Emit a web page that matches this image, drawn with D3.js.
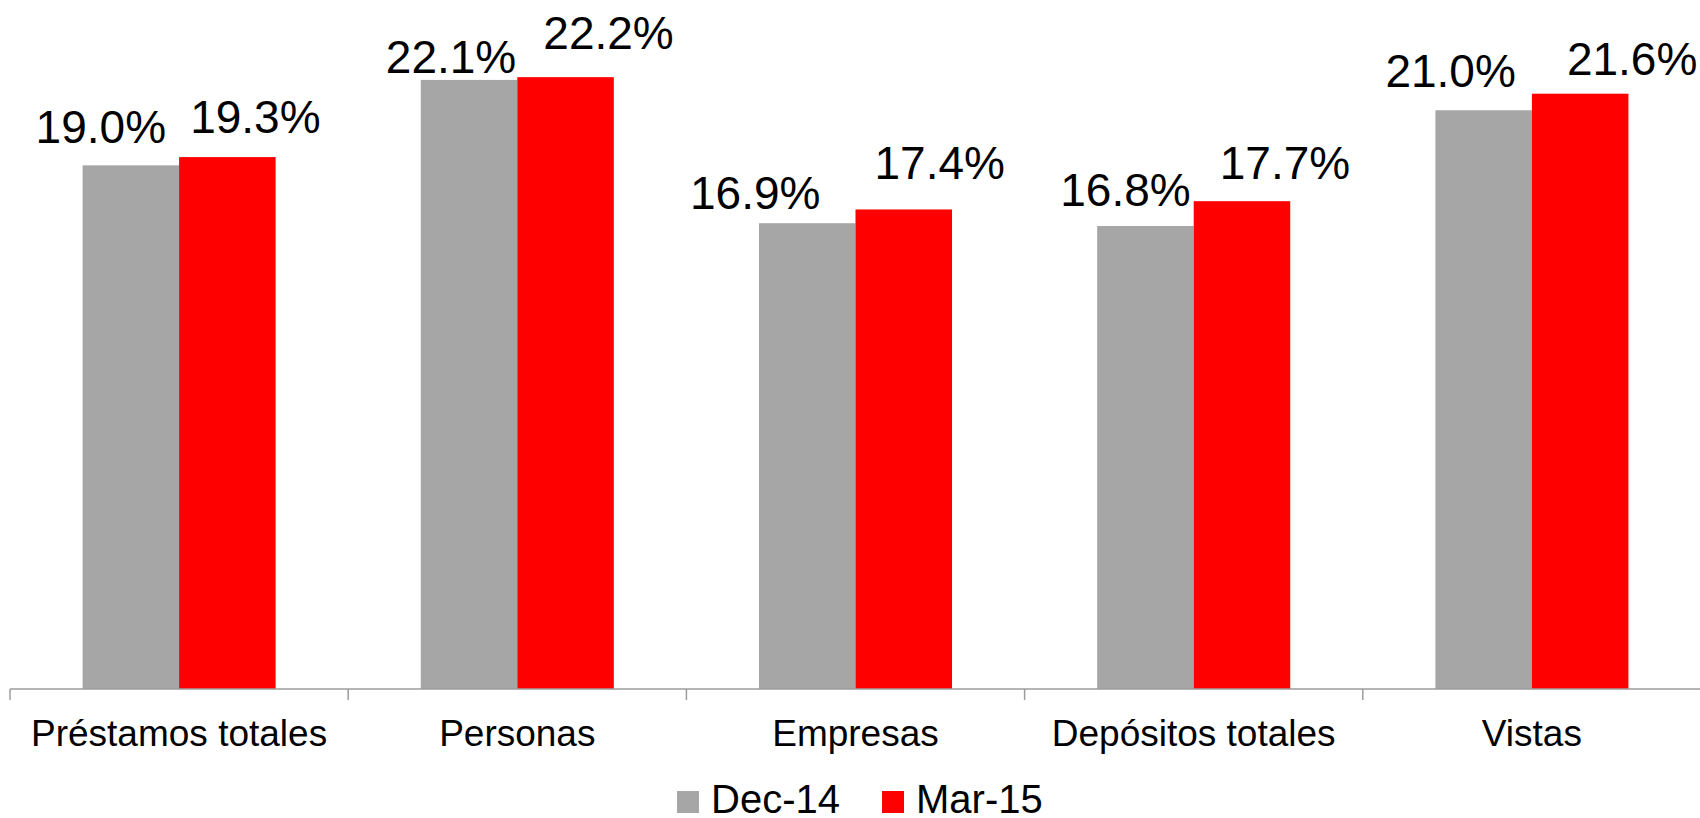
<!DOCTYPE html>
<meta charset="utf-8">
<head>
  <style>
    body { margin: 0; background: #fff; }
    svg text { font-family: "Liberation Sans", Arial, sans-serif; fill: #000; }
  </style>
  <script src="https://d3js.org/d3.v7.min.js"></script>
</head>
<body>
<div id="chart"></div>
<script>
  // *** Data
  var categories = ["Préstamos totales", "Personas", "Empresas", "Depósitos totales", "Vistas"];
  var series = ["Dec-14", "Mar-15"];
  var dec14 = [19.0, 22.1, 16.9, 16.8, 21.0];
  var mar15 = [19.3, 22.2, 17.4, 17.7, 21.6];

  // hand-placed label nudges (dx from bar centre, gap above bar top), as in the original
  var labelNudge = [
    [[-30, 22], [28, 24]],
    [[-18, 7], [43, 28]],
    [[-52, 14], [36, 30]],
    [[-20, 20], [43, 22]],
    [[-33, 23], [52, 19]]
  ];

  var colour = d3.scaleOrdinal().domain(series).range(["#a6a6a6", "#ff0000"]);

  var width = 1700, height = 818;
  var baseY = 689;

  var svg = d3.select("#chart").append("svg")
    .attr("width", width)
    .attr("height", height);

  var x0 = d3.scaleBand().domain(categories).range([10, 1701]).padding(0);
  var x1 = d3.scaleBand().domain(series).range([0, x0.bandwidth()])
    .paddingInner(0).paddingOuter(0.752);
  var y = d3.scaleLinear().domain([0, 25]).range([baseY, 0]);

  var rows = categories.map(function(c, i) {
    return { cat: c, i: i, vals: [
      { s: series[0], v: dec14[i], k: 0 },
      { s: series[1], v: mar15[i], k: 1 }
    ]};
  });

  // bars
  var groups = svg.append("g").selectAll("g")
    .data(rows)
    .enter().append("g")
    .attr("transform", function(d) { return "translate(" + x0(d.cat) + ",0)"; });

  groups.selectAll("rect")
    .data(function(d) { return d.vals; })
    .enter().append("rect")
    .attr("x", function(d) { return x1(d.s); })
    .attr("y", function(d) { return y(d.v); })
    .attr("width", x1.bandwidth())
    .attr("height", function(d) { return baseY - y(d.v); })
    .style("fill", function(d) { return colour(d.s); });

  // value labels
  groups.selectAll("text")
    .data(function(d) { return d.vals.map(function(v) { v.i = d.i; return v; }); })
    .enter().append("text")
    .attr("x", function(d) { return x1(d.s) + x1.bandwidth() / 2 + labelNudge[d.i][d.k][0]; })
    .attr("y", function(d) { return y(d.v) - labelNudge[d.i][d.k][1]; })
    .attr("text-anchor", "middle")
    .style("font-size", "46px")
    .text(function(d) { return d.v.toFixed(1) + "%"; });

  // x axis
  var axis = svg.append("g").attr("transform", "translate(0," + baseY + ")");
  axis.append("line")
    .attr("x1", 10).attr("x2", 1701)
    .attr("stroke", "#9c9c9c").attr("stroke-width", 1.5);
  var tickX = categories.map(function(c) { return x0(c); }).concat([x0.range()[1]]);
  axis.selectAll(".tick")
    .data(tickX)
    .enter().append("line")
    .attr("class", "tick")
    .attr("x1", function(d) { return d; }).attr("x2", function(d) { return d; })
    .attr("y1", 0).attr("y2", 11)
    .attr("stroke", "#9c9c9c").attr("stroke-width", 1.5);
  axis.selectAll(".cat")
    .data(categories)
    .enter().append("text")
    .attr("class", "cat")
    .attr("x", function(d) { return x0(d) + x0.bandwidth() / 2; })
    .attr("y", 57)
    .attr("text-anchor", "middle")
    .style("font-size", "37px")
    .text(function(d) { return d; });

  // legend
  var legendX = [677, 882];
  var legend = svg.append("g").selectAll("g")
    .data(series)
    .enter().append("g")
    .attr("transform", function(d, i) { return "translate(" + legendX[i] + ",791)"; });
  legend.append("rect")
    .attr("width", 22).attr("height", 22)
    .style("fill", function(d) { return colour(d); });
  legend.append("text")
    .attr("x", 34).attr("y", 22)
    .style("font-size", "40px")
    .text(function(d) { return d; });
</script>
</body>
